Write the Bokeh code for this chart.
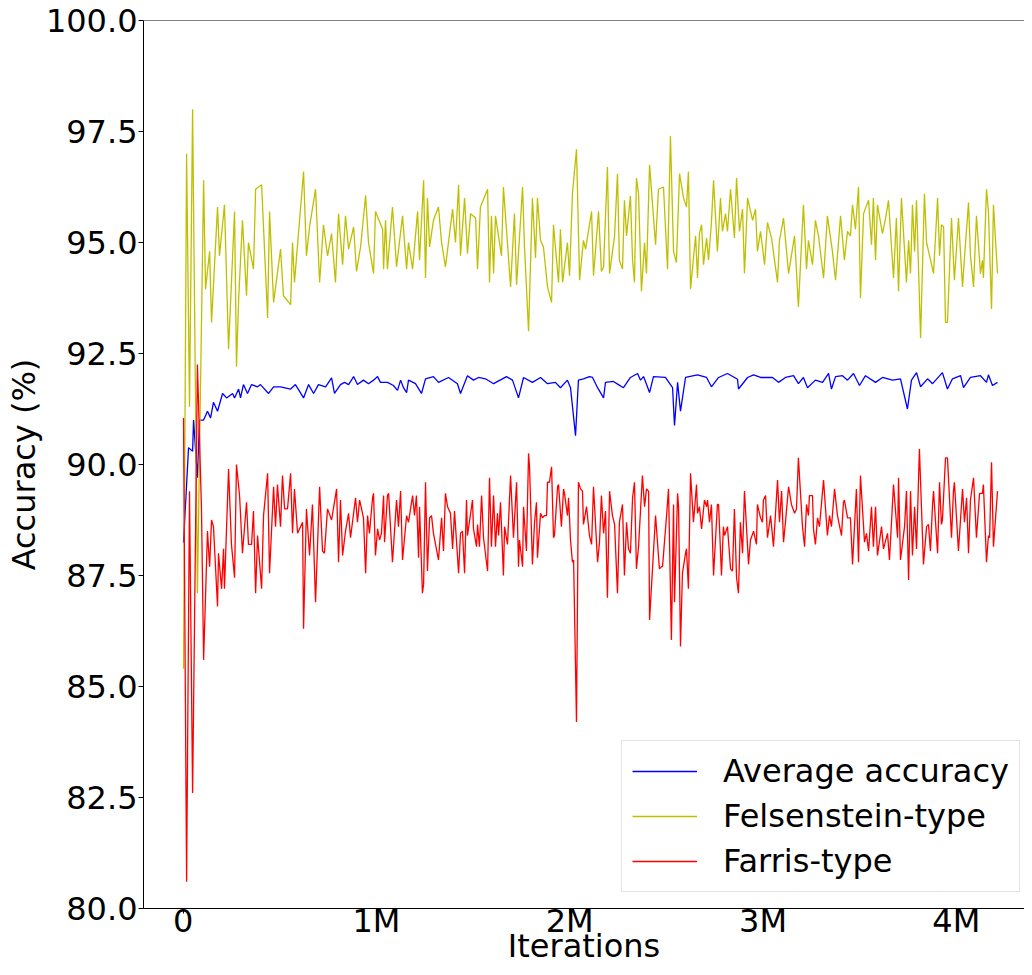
from bokeh.plotting import figure
from bokeh.models import FixedTicker, Legend, LegendItem, Range1d, Span
from bokeh.embed import file_html
from bokeh.resources import INLINE

# ---------------- data (iterations in thousands, accuracy in %) ----------------
fel_k = [2, 18, 33, 49, 74, 106, 116, 137, 147, 178,
         188, 214, 235, 266, 276, 287, 307, 328, 338, 364,
         375, 406, 437, 447, 468, 504, 519, 556, 566, 576,
         623, 638, 654, 685, 706, 726, 747, 768, 788, 804,
         825, 840, 856, 882, 897, 918, 944, 959, 985, 995,
         1032, 1037, 1047, 1057, 1083, 1104, 1135, 1156, 1166, 1187,
         1213, 1223, 1244, 1254, 1264, 1275, 1295, 1321, 1337, 1357,
         1394, 1409, 1425, 1435, 1456, 1471, 1487, 1513, 1523, 1538,
         1575, 1585, 1595, 1606, 1616, 1647, 1657, 1694, 1714, 1725,
         1756, 1766, 1787, 1807, 1823, 1833, 1849, 1864, 1885, 1906,
         1916, 1942, 1952, 1963, 1988, 1999, 2014, 2035, 2051, 2071,
         2082, 2113, 2123, 2149, 2164, 2175, 2195, 2206, 2232, 2247,
         2257, 2273, 2283, 2294, 2314, 2325, 2335, 2345, 2356, 2371,
         2387, 2397, 2413, 2444, 2459, 2485, 2506, 2521, 2537, 2552,
         2568, 2589, 2604, 2614, 2625, 2651, 2661, 2671, 2682, 2692,
         2708, 2718, 2733, 2744, 2764, 2780, 2790, 2806, 2816, 2832,
         2852, 2863, 2878, 2894, 2904, 2920, 2946, 2961, 2971, 2987,
         3008, 3023, 3044, 3075, 3085, 3106, 3132, 3163, 3183, 3209,
         3225, 3235, 3256, 3271, 3287, 3313, 3333, 3359, 3375, 3401,
         3421, 3437, 3452, 3463, 3478, 3494, 3504, 3520, 3546, 3561,
         3571, 3582, 3592, 3618, 3634, 3649, 3675, 3690, 3701, 3716,
         3742, 3753, 3763, 3773, 3784, 3794, 3815, 3835, 3846, 3872,
         3882, 3903, 3913, 3923, 3934, 3944, 3954, 3975, 3990, 4011,
         4032, 4042, 4063, 4073, 4089, 4104, 4125, 4135, 4140, 4156,
         4166, 4182, 4192, 4213]
fel_acc = [85.4, 97.0, 91.3, 98.0, 87.1, 96.4, 93.95, 94.8, 93.2, 95.8,
           94.7, 95.85, 92.6, 95.7, 92.2, 93.7, 95.5, 93.8, 95.0, 94.4,
           96.2, 96.3, 93.3, 95.7, 93.65, 94.85, 93.8, 93.6, 95.0, 94.1,
           96.6, 94.7, 95.35, 96.2, 94.1, 95.4, 94.7, 95.2, 94.1, 95.65,
           94.5, 95.6, 94.85, 95.35, 94.35, 94.9, 96.06, 95.0, 94.3, 95.7,
           95.3, 94.4, 95.5, 94.4, 95.8, 94.45, 95.6, 94.4, 95.0, 94.4,
           95.7, 94.6, 96.4, 94.2, 96.0, 94.9, 95.5, 95.8, 95.0, 94.45,
           95.75, 95.0, 96.3, 94.7, 96.0, 94.75, 95.65, 95.55, 94.4, 95.8,
           96.2, 94.1, 95.6, 94.3, 95.6, 94.7, 96.25, 94.0, 95.65, 94.05,
           96.25, 94.9, 93.0, 96.0, 94.65, 96.0, 95.05, 94.9, 94.0, 93.65,
           95.4, 94.1, 95.3, 94.1, 95.0, 94.25, 96.1, 97.1, 94.15, 95.05,
           94.85, 95.7, 94.25, 95.7, 94.35, 94.45, 96.7, 94.3, 95.15, 96.55,
           94.6, 94.4, 95.95, 95.15, 96.05, 94.6, 94.1, 96.45, 96.1, 93.9,
           95.0, 94.3, 96.75, 94.95, 96.2, 96.25, 94.4, 97.4, 94.8, 94.55,
           96.55, 96.0, 95.8, 96.6, 93.95, 95.15, 94.2, 95.2, 95.4, 94.5,
           95.1, 94.6, 95.45, 96.4, 94.8, 96.0, 95.25, 95.65, 95.25, 96.2,
           95.1, 96.45, 95.25, 95.75, 94.3, 96.0, 95.5, 95.75, 94.8, 95.25,
           94.5, 95.45, 95.1, 94.1, 95.05, 95.55, 94.3, 95.15, 93.55, 95.85,
           94.4, 95.05, 94.5, 95.5, 95.15, 94.2, 95.6, 94.8, 94.15, 95.6,
           94.6, 95.25, 95.15, 95.85, 95.3, 96.25, 93.75, 95.65, 95.95, 94.95,
           96.0, 94.6, 95.85, 95.2, 95.55, 95.95, 94.2, 95.55, 93.9, 96.0,
           94.1, 95.05, 94.3, 95.85, 94.8, 95.95, 92.85, 96.1, 95.0, 94.5,
           94.3, 96.0, 94.7, 95.4, 95.35, 93.2, 93.2, 95.55, 94.15, 95.55,
           94.0, 94.65, 95.9, 94.7, 94.0, 95.6, 94.3, 94.6, 94.2, 96.2,
           95.7, 93.5, 95.85, 94.3]

far_k = [2, 18, 33, 49, 74, 95, 106, 126, 137, 147,
         157, 178, 183, 199, 209, 214, 235, 250, 266, 276,
         292, 307, 328, 338, 354, 364, 375, 385, 406, 416,
         437, 447, 468, 478, 488, 504, 514, 525, 540, 556,
         566, 576, 592, 618, 623, 638, 654, 669, 685, 706,
         721, 731, 747, 768, 794, 804, 814, 825, 840, 856,
         866, 892, 902, 913, 933, 944, 954, 964, 980, 985,
         995, 1006, 1016, 1026, 1037, 1042, 1057, 1063, 1083, 1104,
         1114, 1125, 1135, 1156, 1166, 1187, 1197, 1207, 1218, 1223,
         1238, 1244, 1254, 1264, 1275, 1285, 1295, 1321, 1337, 1347,
         1357, 1368, 1383, 1394, 1404, 1425, 1435, 1445, 1456, 1466,
         1471, 1497, 1502, 1518, 1523, 1533, 1544, 1554, 1575, 1585,
         1595, 1606, 1616, 1626, 1632, 1642, 1657, 1663, 1678, 1694,
         1709, 1725, 1735, 1740, 1756, 1761, 1776, 1787, 1792, 1807,
         1818, 1828, 1833, 1849, 1859, 1870, 1880, 1885, 1895, 1906,
         1916, 1921, 1937, 1942, 1957, 1968, 1973, 1988, 1994, 2004,
         2014, 2020, 2035, 2045, 2056, 2066, 2071, 2087, 2102, 2113,
         2123, 2144, 2154, 2164, 2175, 2185, 2195, 2206, 2221, 2232,
         2247, 2257, 2273, 2283, 2294, 2304, 2314, 2325, 2335, 2345,
         2356, 2376, 2387, 2397, 2408, 2413, 2444, 2464, 2475, 2480,
         2501, 2511, 2526, 2537, 2542, 2558, 2563, 2573, 2583, 2599,
         2604, 2614, 2625, 2640, 2656, 2661, 2671, 2682, 2697, 2708,
         2713, 2723, 2733, 2744, 2764, 2770, 2785, 2795, 2801, 2816,
         2832, 2842, 2852, 2863, 2873, 2883, 2894, 2904, 2925, 2935,
         2951, 2966, 2971, 2987, 2997, 3002, 3013, 3023, 3039, 3054,
         3075, 3085, 3096, 3106, 3116, 3132, 3147, 3163, 3173, 3183,
         3204, 3215, 3225, 3235, 3240, 3256, 3261, 3271, 3282, 3292,
         3313, 3333, 3344, 3354, 3370, 3385, 3406, 3416, 3421, 3437,
         3452, 3463, 3483, 3494, 3504, 3525, 3535, 3546, 3561, 3571,
         3582, 3592, 3613, 3623, 3644, 3654, 3675, 3696, 3701, 3711,
         3732, 3742, 3753, 3763, 3773, 3784, 3794, 3809, 3830, 3846,
         3856, 3866, 3877, 3882, 3903, 3913, 3923, 3928, 3944, 3954,
         3975, 3985, 3990, 4011, 4032, 4042, 4053, 4063, 4073, 4089,
         4104, 4120, 4135, 4140, 4156, 4166, 4172, 4182, 4192, 4213]
far_acc = [91.05, 80.6, 89.4, 82.6, 92.25, 89.0, 85.6, 88.5, 87.7, 88.75,
           88.6, 86.8, 88.0, 87.2, 88.1, 87.2, 89.9, 88.2, 87.45, 90.0,
           89.3, 88.0, 89.15, 88.2, 88.2, 88.95, 87.1, 88.4, 87.2, 88.85,
           89.8, 87.55, 89.5, 88.6, 89.55, 88.6, 89.75, 89.0, 89.0, 89.8,
           88.45, 89.45, 88.45, 88.7, 86.3, 89.0, 87.95, 89.1, 86.9, 89.5,
           88.05, 88.0, 89.0, 88.75, 89.45, 87.8, 89.2, 87.95, 88.5, 88.9,
           88.35, 89.25, 88.7, 89.2, 88.8, 87.55, 88.85, 88.45, 89.25, 89.35,
           87.95, 88.55, 88.3, 88.45, 89.3, 88.25, 89.3, 89.35, 87.8, 89.2,
           88.6, 89.4, 87.85, 88.85, 88.7, 89.3, 88.85, 89.3, 87.9, 89.05,
           87.1, 87.3, 89.6, 87.6, 88.8, 88.85, 88.45, 87.85, 88.8, 88.05,
           89.35, 89.05, 88.9, 88.1, 88.95, 87.55, 88.45, 88.5, 87.55, 89.2,
           88.4, 89.2, 88.55, 88.15, 88.65, 88.15, 89.3, 88.35, 87.6, 89.7,
           88.15, 89.3, 88.15, 88.9, 88.4, 89.15, 87.5, 88.6, 88.2, 89.75,
           88.35, 89.6, 87.7, 88.3, 87.7, 89.05, 88.05, 90.25, 89.95, 87.75,
           88.7, 89.15, 87.9, 88.9, 88.8, 88.85, 88.85, 89.6, 89.6, 89.95,
           88.35, 88.4, 89.5, 89.55, 88.6, 89.45, 89.35, 88.85, 89.25, 88.3,
           87.8, 87.85, 84.2, 89.6, 89.45, 89.4, 88.65, 89.05, 88.4, 88.2,
           89.5, 87.8, 88.25, 89.3, 88.45, 88.95, 87.0, 89.4, 88.85, 88.65,
           87.1, 88.7, 89.1, 87.5, 88.7, 88.1, 88.0, 89.25, 89.6, 87.65,
           88.15, 89.75, 89.05, 89.45, 89.4, 86.5, 88.85, 87.65, 87.7, 87.7,
           88.85, 89.45, 86.05, 89.1, 86.9, 89.35, 89.05, 85.9, 87.55, 88.0,
           88.1, 87.2, 89.8, 88.7, 89.55, 88.9, 89.05, 88.55, 89.2, 89.05,
           89.2, 88.7, 89.1, 87.5, 89.1, 89.1, 87.5, 88.6, 88.4, 88.6,
           87.65, 87.6, 89.0, 87.45, 87.1, 88.7, 88.0, 89.4, 87.75, 88.3,
           88.5, 88.2, 89.1, 88.8, 88.7, 89.2, 89.3, 88.35, 88.85, 88.15,
           89.65, 88.7, 89.4, 88.25, 88.7, 89.5, 89.1, 88.9, 89.0, 90.15,
           88.6, 88.15, 89.1, 88.85, 89.3, 89.3, 88.55, 88.2, 88.8, 88.6,
           89.65, 88.4, 88.85, 88.6, 89.45, 88.85, 88.4, 89.15, 89.2, 88.8,
           88.8, 87.75, 89.45, 87.8, 89.75, 88.25, 88.45, 88.05, 89.05, 88.15,
           89.05, 87.95, 88.6, 88.1, 88.45, 87.85, 89.55, 88.35, 89.7, 87.85,
           88.6, 89.4, 87.4, 89.4, 87.95, 89.05, 88.1, 90.35, 87.75, 88.6,
           88.65, 88.05, 89.1, 89.4, 88.0, 89.6, 88.65, 88.75, 90.15, 90.15,
           88.35, 89.4, 89.6, 88.05, 89.45, 88.7, 89.25, 88.0, 89.2, 89.7,
           88.35, 89.35, 89.35, 89.55, 87.8, 88.4, 88.35, 90.05, 88.15, 89.4]

avg_k = [2, 28, 49, 54, 74, 85, 106, 126, 142, 157,
         178, 204, 225, 256, 266, 287, 297, 312, 333, 354,
         385, 400, 442, 468, 504, 556, 581, 623, 649, 675,
         700, 737, 768, 783, 814, 835, 856, 882, 902, 933,
         959, 985, 1006, 1021, 1057, 1088, 1109, 1125, 1140, 1156,
         1166, 1202, 1233, 1254, 1295, 1321, 1373, 1419, 1435, 1471,
         1502, 1528, 1564, 1606, 1673, 1704, 1735, 1761, 1807, 1849,
         1885, 1926, 1952, 1988, 2004, 2030, 2045, 2071, 2102, 2118,
         2144, 2175, 2185, 2226, 2252, 2278, 2314, 2351, 2366, 2382,
         2413, 2433, 2495, 2532, 2542, 2558, 2573, 2599, 2661, 2708,
         2733, 2770, 2816, 2868, 2873, 2920, 2951, 2987, 3049, 3080,
         3116, 3158, 3183, 3209, 3230, 3271, 3308, 3339, 3354, 3375,
         3411, 3437, 3468, 3499, 3530, 3582, 3618, 3670, 3711, 3747,
         3768, 3794, 3815, 3851, 3877, 3928, 3954, 3980, 4022, 4037,
         4073, 4125, 4156, 4166, 4187, 4213]
avg_acc = [88.24, 90.38, 90.3, 91.0, 89.7, 91.0, 91.0, 91.2, 91.05, 91.4,
           91.2, 91.6, 91.5, 91.6, 91.5, 91.7, 91.5, 91.8, 91.6, 91.8,
           91.75, 91.8, 91.6, 91.75, 91.75, 91.7, 91.8, 91.5, 91.8, 91.6,
           91.8, 91.75, 91.95, 91.6, 91.8, 91.85, 91.8, 91.98, 91.8, 91.9,
           91.82, 91.9, 91.98, 91.85, 91.85, 91.78, 91.67, 91.9, 91.73, 91.62,
           91.9, 91.82, 91.6, 91.93, 91.98, 91.85, 91.96, 91.82, 91.6, 92.0,
           91.9, 91.96, 91.93, 91.82, 91.98, 91.9, 91.5, 91.96, 91.85, 91.96,
           91.82, 91.85, 91.73, 91.9, 91.73, 90.65, 91.9, 91.93, 91.98, 91.96,
           91.73, 91.5, 91.85, 91.87, 91.8, 91.73, 91.96, 92.05, 91.9, 91.98,
           91.62, 91.98, 91.96, 91.73, 90.88, 91.85, 91.2, 91.96, 92.02, 91.96,
           91.75, 91.96, 92.05, 91.92, 91.7, 91.96, 92.02, 91.96, 91.96, 91.85,
           91.96, 92.0, 91.82, 91.96, 91.73, 91.9, 91.85, 92.05, 91.7, 91.98,
           92.0, 91.9, 92.05, 91.78, 92.0, 91.85, 91.96, 91.9, 91.93, 91.25,
           91.9, 92.07, 91.75, 91.93, 91.82, 92.07, 91.7, 91.93, 92.0, 91.73,
           91.96, 92.0, 91.85, 92.02, 91.78, 91.85]

series_labels = ["Average accuracy", "Felsenstein-type", "Farris-type"]
x_axis_title = "Iterations"
y_axis_title = "Accuracy (%)"
x_tick_values = [0, 1000000, 2000000, 3000000, 4000000]
x_tick_labels = ["0", "1M", "2M", "3M", "4M"]
y_tick_values = [80.0, 82.5, 85.0, 87.5, 90.0, 92.5, 95.0, 97.5, 100.0]
y_tick_labels = ["80.0", "82.5", "85.0", "87.5", "90.0", "92.5", "95.0", "97.5", "100.0"]

# ---------------- figure ----------------
FONT = "DejaVu Sans"
FS = "32px"
X_START, X_END = -205000, 4352600

p = figure(width=1024, height=967, output_backend="svg", toolbar_location=None,
           x_range=Range1d(X_START, X_END), y_range=Range1d(80, 100),
           min_border_left=143, min_border_right=0, min_border_top=20,
           min_border_bottom=59)
p.background_fill_color = "white"
p.border_fill_color = "white"
p.grid.visible = False
p.outline_line_color = None

r_avg = p.line([k * 1000 for k in avg_k], avg_acc, line_color="#0000ff", line_width=1.3)
r_fel = p.line([k * 1000 for k in fel_k], fel_acc, line_color="#bfbf00", line_width=1.3)
r_far = p.line([k * 1000 for k in far_k], far_acc, line_color="#ff0000", line_width=1.3)

# top spine of the frame
p.add_layout(Span(location=100, dimension="width", line_color="black", line_width=1))

xa = p.xaxis[0]
xa.ticker = FixedTicker(ticks=x_tick_values)
xa.major_label_overrides = dict(zip(x_tick_values, x_tick_labels))
ya = p.yaxis[0]
ya.ticker = FixedTicker(ticks=y_tick_values)
ya.major_label_overrides = dict(zip(y_tick_values, y_tick_labels))

for ax in (xa, ya):
    ax.axis_line_color = "black"
    ax.axis_line_width = 1
    ax.major_tick_line_color = "black"
    ax.major_tick_out = 5
    ax.major_tick_in = 0
    ax.minor_tick_line_color = None
    ax.major_label_text_font = FONT
    ax.major_label_text_font_size = FS
    ax.major_label_text_color = "black"
    ax.axis_label_text_font = FONT
    ax.axis_label_text_font_size = FS
    ax.axis_label_text_font_style = "normal"
    ax.axis_label_text_color = "black"

xa.axis_label = x_axis_title
xa.major_label_standoff = -12
xa.axis_label_standoff = -16
ya.axis_label = y_axis_title
ya.major_label_standoff = 1
ya.axis_label_standoff = 0

legend = Legend(items=[LegendItem(label=series_labels[0], renderers=[r_avg]),
                       LegendItem(label=series_labels[1], renderers=[r_fel]),
                       LegendItem(label=series_labels[2], renderers=[r_far])],
                location=(478, 16), margin=0, padding=10, spacing=5,
                glyph_width=65, glyph_height=40, label_height=40, label_standoff=26,
                label_text_font=FONT, label_text_font_size=FS, label_text_color="black",
                border_line_color="#cccccc", border_line_width=1,
                background_fill_color="white", background_fill_alpha=0.8)
p.add_layout(legend)

open("out.html", "w").write(file_html(p, INLINE))
